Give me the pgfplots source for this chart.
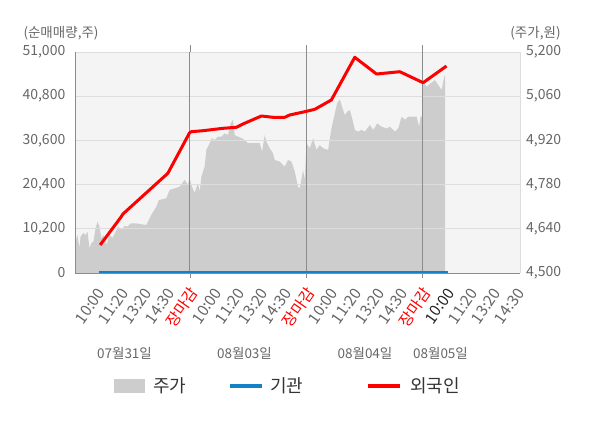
\documentclass[border=0pt]{standalone}
\usepackage{pgfplots}
\pgfplotsset{compat=1.18}
\usepackage{fontspec}
\setmainfont{Noto Sans CJK KR}
\definecolor{areagray}{HTML}{CDCDCD}
\definecolor{bggray}{HTML}{F4F4F4}
\definecolor{gridgray}{HTML}{DDDDDD}
\definecolor{daygray}{HTML}{8C8C8C}
\definecolor{tickgray}{HTML}{666666}
\definecolor{kblue}{HTML}{1480C8}
\definecolor{kred}{HTML}{FF0000}
\definecolor{legtext}{HTML}{333333}

\begin{document}
\begin{tikzpicture}[x=1pt,y=1pt]
\path[use as bounding box] (0,0) rectangle (600,428);
% price axis (right)
\begin{axis}[
  at={(75.5pt,155pt)}, anchor=south west,
  scale only axis, width=444.5pt, height=221pt,
  xmin=0.02, xmax=3.837, ymin=4500, ymax=5200,
  axis x line=none, axis y line*=right,
  axis line style={draw=gridgray,-},
  axis background/.style={fill=bggray},
  ytick={4500,4640,4780,4920,5060,5200},
  major tick length=0pt,
  y tick label style={font=\fontsize{14}{16}\selectfont, color=tickgray, inner sep=0pt, xshift=6pt},
  /pgf/number format/assume math mode=true,
  /pgf/number format/1000 sep={,},
  /pgf/number format/fixed,
  /pgf/number format/precision=0,
  scaled y ticks=false,
]
\addplot[fill=areagray, draw=none] coordinates {
(0.020,4500) (0.020,4599) (0.037,4620) (0.054,4579) (0.063,4615) (0.088,4627)
(0.106,4620) (0.123,4631) (0.140,4578) (0.157,4595) (0.174,4599) (0.192,4642)
(0.209,4662) (0.226,4647) (0.243,4610) (0.260,4620) (0.286,4589) (0.312,4620)
(0.338,4611) (0.364,4631) (0.389,4647) (0.415,4636) (0.441,4649) (0.467,4647)
(0.493,4657) (0.542,4657) (0.628,4652) (0.671,4684) (0.714,4710) (0.736,4731)
(0.800,4737) (0.828,4763) (0.871,4768) (0.914,4773) (0.957,4795) (0.985,4779)
(1.000,4801) (1.015,4779) (1.043,4753) (1.071,4785) (1.086,4758) (1.101,4805)
(1.129,4837) (1.144,4890) (1.172,4911) (1.192,4927) (1.215,4921) (1.243,4932)
(1.273,4932) (1.301,4942) (1.329,4937) (1.353,4974) (1.372,4985) (1.387,4937)
(1.415,4932) (1.445,4927) (1.473,4921) (1.501,4911) (1.559,4911) (1.602,4911)
(1.622,4884) (1.645,4937) (1.659,4916) (1.688,4895) (1.716,4879) (1.731,4858)
(1.774,4853) (1.817,4837) (1.845,4858) (1.874,4853) (1.903,4821) (1.931,4773)
(1.946,4768) (1.974,4826) (1.989,4795) (2.003,4911) (2.032,4895) (2.060,4927)
(2.089,4890) (2.118,4905) (2.146,4895) (2.189,4890) (2.218,4958) (2.247,5006)
(2.267,5038) (2.290,5050) (2.313,5022) (2.333,5000) (2.353,5011) (2.376,5016)
(2.399,4985) (2.419,4953) (2.447,4948) (2.476,4953) (2.505,4948) (2.548,4969)
(2.577,4953) (2.611,4974) (2.649,4963) (2.692,4958) (2.720,4963) (2.763,4948)
(2.791,4958) (2.821,4995) (2.849,4985) (2.877,4995) (2.920,4995) (2.949,4995)
(2.971,4963) (2.983,4995) (2.995,4995) (3.006,5106) (3.035,5090) (3.070,5101)
(3.107,5111) (3.144,5090) (3.165,5080) (3.187,5124) (3.193,5124) (3.193,4500)
} \closedcycle;
\end{axis}
% volume axis (left)
\begin{axis}[
  at={(75.5pt,155pt)}, anchor=south west,
  scale only axis, width=444.5pt, height=221pt,
  xmin=0.02, xmax=3.837, ymin=0, ymax=51000,
  axis x line*=bottom, axis y line*=left,
  axis line style={draw=daygray,-},
  ytick={0,10200,20400,30600,40800,51000},
  ymajorgrids, major grid style={draw=gridgray, line width=0.8pt},
  xtick={0.2,0.4,0.6,0.8,1.0,1.2,1.4,1.6,1.8,2.0,2.2,2.4,2.6,2.8,3.0,3.2,3.4,3.6,3.8},
  xticklabels={10:00,11:20,13:20,14:30,\textcolor{kred}{장마감},
               10:00,11:20,13:20,14:30,\textcolor{kred}{장마감},
               10:00,11:20,13:20,14:30,\textcolor{kred}{장마감},
               \textcolor{black!85}{10:00},11:20,13:20,14:30},
  x tick label style={xshift=5pt, yshift=-17pt, rotate=55, anchor=east,
     inner sep=0pt, text height=11pt, text depth=0pt,
     font=\fontsize{15.5}{17}\selectfont, color=tickgray},
  y tick label style={font=\fontsize{14}{16}\selectfont, color=tickgray, inner sep=0pt, xshift=-10pt},
  major tick length=0pt,
  extra x ticks={1,2,3},
  extra x tick labels={},
  extra x tick style={grid=major, major grid style={draw=daygray, line width=0.8pt},
     major tick length=5pt, tick align=outside, tick style={draw=daygray}},
  /pgf/number format/assume math mode=true,
  /pgf/number format/1000 sep={,},
  /pgf/number format/fixed,
  /pgf/number format/precision=0,
  scaled y ticks=false,
]
\addplot[kblue, line width=3pt] coordinates {(0.22,200) (3.215,200)};
\addplot[kred, line width=3pt, line join=round] coordinates {
(0.232,6462) (0.413,12992) (0.427,13615) (0.813,23008) (1.000,32377) (1.015,32608)
(1.114,32838) (1.215,33162) (1.287,33392) (1.402,33623) (1.458,34385) (1.616,36231)
(1.716,35931) (1.817,35931) (1.859,36462) (1.989,37223) (2.075,37777) (2.217,39923)
(2.418,49777) (2.605,45923) (2.805,46454) (3.005,43915) (3.206,47769)
};
\end{axis}
% day separators continue slightly above the plot area
\draw[daygray, line width=0.8pt] (190,376) -- (190,383);
\draw[daygray, line width=0.8pt] (306.7,376) -- (306.7,383);
\draw[daygray, line width=0.8pt] (422.7,376) -- (422.7,383);
% axis titles
\node[font=\fontsize{13.5}{15}\selectfont, text=tickgray] at (61,395) {(순매매량,주)};
\node[font=\fontsize{13.5}{15}\selectfont, text=tickgray] at (535.5,395) {(주가,원)};
% day labels
\node[font=\fontsize{13.5}{15}\selectfont, text=tickgray] at (124.5,75) {07월31일};
\node[font=\fontsize{13.5}{15}\selectfont, text=tickgray] at (244.5,75) {08월03일};
\node[font=\fontsize{13.5}{15}\selectfont, text=tickgray] at (365,75) {08월04일};
\node[font=\fontsize{13.5}{15}\selectfont, text=tickgray] at (440.5,75) {08월05일};
% legend
\fill[areagray] (114,35) rectangle (145,49);
\node[font=\fontsize{18}{20}\selectfont, text=legtext, anchor=west, inner sep=0pt] at (153,42) {주가};
\draw[kblue, line width=4pt] (230,42) -- (262,42);
\node[font=\fontsize{18}{20}\selectfont, text=legtext, anchor=west, inner sep=0pt] at (270,42) {기관};
\draw[kred, line width=4pt] (368,42) -- (400,42);
\node[font=\fontsize{18}{20}\selectfont, text=legtext, anchor=west, inner sep=0pt] at (410,42) {외국인};
\end{tikzpicture}
\end{document}
